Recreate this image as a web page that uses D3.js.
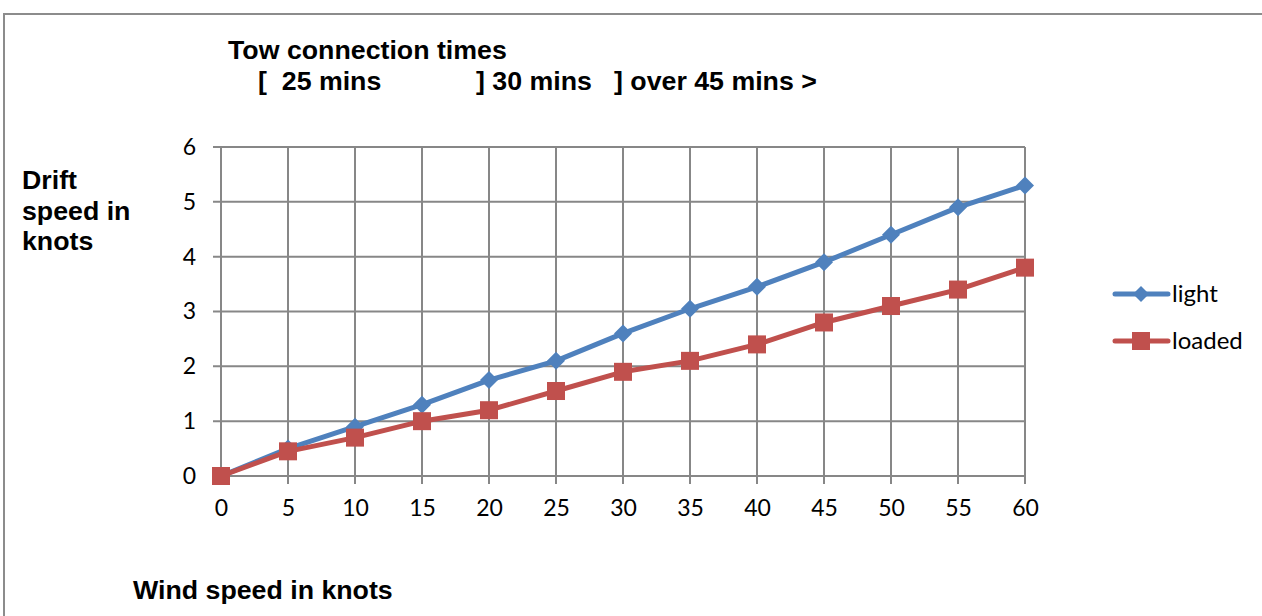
<!DOCTYPE html>
<html><head><meta charset="utf-8">
<script src="https://cdn.jsdelivr.net/npm/d3@7"></script>
<style>body{margin:0;background:#fff}svg{display:block}</style>
</head><body><svg id="c" width="1262" height="616"></svg>
<script>
const windSpeeds = [0,5,10,15,20,25,30,35,40,45,50,55,60];
const lightValues = [0,0.5,0.9,1.3,1.75,2.1,2.6,3.05,3.45,3.9,4.4,4.9,5.3];
const loadedValues = [0,0.45,0.7,1.0,1.2,1.55,1.9,2.1,2.4,2.8,3.1,3.4,3.8];
const yTicks = [0,1,2,3,4,5,6];
const seriesNames = ["light","loaded"];
const titleLines = ["Tow connection times"];
const connLabels = ["[  25 mins","] 30 mins","] over 45 mins >"];

const svg = d3.select("#c");
const blue = "#4F81BD", red = "#C0504D", grid = "#878787";
const tickFont = "Lato, 'Open Sans', sans-serif";
const boldFont = "'Liberation Sans', Arial, sans-serif";

// frame
svg.append("rect").attr("x",4).attr("y",14).attr("width",1270).attr("height",620)
  .attr("fill","none").attr("stroke","#8c8c8c").attr("stroke-width",2);

const x = d3.scaleLinear().domain([0,60]).range([221,1025]);
const y = d3.scaleLinear().domain([0,6]).range([476,147]);

// gridlines
const g = svg.append("g");
g.selectAll(".vg").data(windSpeeds).join("line")
  .attr("x1",d=>x(d)).attr("x2",d=>x(d)).attr("y1",y(6)).attr("y2",y(0)+8)
  .attr("stroke",grid).attr("stroke-width",2);
g.selectAll(".hg").data(yTicks).join("line")
  .attr("x1",x(0)-8).attr("x2",x(60)).attr("y1",d=>y(d)).attr("y2",d=>y(d))
  .attr("stroke",grid).attr("stroke-width",2);

// axes (labels only, through d3 axes)
const xAxis = svg.append("g").attr("transform",`translate(0,${y(0)})`)
  .call(d3.axisBottom(x).tickValues(windSpeeds).tickFormat(d3.format("d")).tickSize(0).tickPadding(24));
xAxis.select(".domain").remove();
xAxis.selectAll("text").attr("font-family",tickFont).attr("font-size",23).attr("fill","#000");
const yAxis = svg.append("g").attr("transform",`translate(${x(0)},0)`)
  .call(d3.axisLeft(y).tickValues(yTicks).tickFormat(d3.format("d")).tickSize(0).tickPadding(25));
yAxis.select(".domain").remove();
yAxis.selectAll("text").attr("font-family",tickFont).attr("font-size",23).attr("fill","#000");

// lines
const line = d3.line().x((d,i)=>x(windSpeeds[i])).y(d=>y(d));
svg.append("path").datum(lightValues).attr("d",line).attr("fill","none")
  .attr("stroke",blue).attr("stroke-width",5).attr("stroke-linejoin","round");
svg.append("path").datum(loadedValues).attr("d",line).attr("fill","none")
  .attr("stroke",red).attr("stroke-width",5).attr("stroke-linejoin","round");

const diamond = s => `M0,${-s}L${s},0L0,${s}L${-s},0Z`;
svg.selectAll(".dl").data(lightValues).join("path")
  .attr("d",diamond(9)).attr("fill",blue)
  .attr("transform",(d,i)=>`translate(${x(windSpeeds[i])},${y(d)})`);
svg.selectAll(".sq").data(loadedValues).join("rect")
  .attr("x",(d,i)=>x(windSpeeds[i])-9).attr("y",d=>y(d)-9)
  .attr("width",18).attr("height",18).attr("fill",red);

// legend
const leg = [{n:seriesNames[0],c:blue,yy:294,m:"d"},{n:seriesNames[1],c:red,yy:341,m:"s"}];
leg.forEach(l=>{
  svg.append("line").attr("x1",1115).attr("x2",1168).attr("y1",l.yy).attr("y2",l.yy)
    .attr("stroke",l.c).attr("stroke-width",5).attr("stroke-linecap","round");
  if(l.m==="d") svg.append("path").attr("d",diamond(8)).attr("fill",l.c)
    .attr("transform",`translate(1141,${l.yy})`);
  else svg.append("rect").attr("x",1132).attr("y",l.yy-9).attr("width",18).attr("height",18).attr("fill",l.c);
  svg.append("text").attr("x",1172).attr("y",l.yy+8).text(l.n)
    .attr("font-family",tickFont).attr("font-size",24).attr("fill","#000");
});

// titles
const bold = (t,xx,yy)=>svg.append("text")
  .attr("transform",`translate(${xx},${yy}) scale(1.07,1)`).text(t)
  .attr("font-family",boldFont).attr("font-weight","bold").attr("font-size",25).attr("fill","#000")
  .style("white-space","pre");
bold(titleLines[0],228,59);
bold(connLabels[0],258,90);
bold(connLabels[1],476,90);
bold(connLabels[2],614,90);
bold("Drift",22,189);
bold("speed in",22,220);
bold("knots",22,250);
bold("Wind speed in knots",133,599);
</script></body></html>
